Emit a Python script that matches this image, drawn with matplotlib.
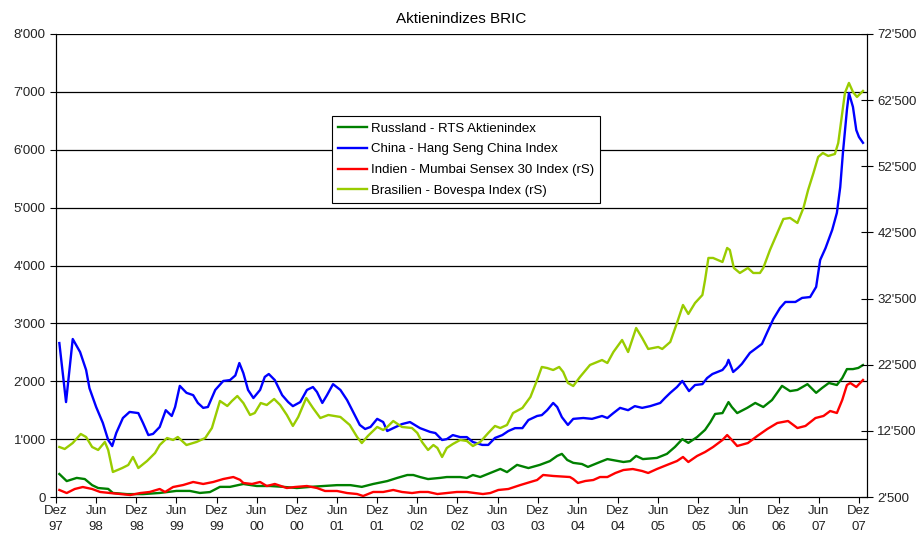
import matplotlib.pyplot as plt
from matplotlib.ticker import FuncFormatter

# months since Dez 97
ru_m = [0.5, 1.6, 3.1, 4.3, 5.4, 6.3, 7.8, 8.5, 10.6, 13, 15.5, 18, 20, 21.5, 23, 24.5, 26, 28, 30, 32,
        34, 36, 38, 40, 42, 44, 45.7, 47.4, 49.5, 51, 52.5, 53.4, 54.4, 55.6, 57.4, 58.4, 60.4, 61.4, 62.3,
        63.4, 64.9, 66.4, 67.4, 68.9, 70.6, 72.3, 73.8, 74.9, 75.6, 76.4, 77.3, 78.6, 79.5, 81.3, 82.4,
        84.8, 85.8, 86.7, 87.7, 89.8, 91.3, 92.5, 93.6, 94.5, 95.8, 97, 97.8, 98.5, 99.6, 100.5, 101,
        101.8, 103.3, 104.5, 105.7, 107, 108.5, 109.7, 110.8, 112.3, 113.6, 114.5, 115.5, 116.7, 117.5,
        118.2, 119.1, 119.9, 120.6]
ru_v = [397, 275, 330, 310, 205, 155, 140, 70, 50, 50, 70, 105, 105, 70, 85, 175, 175, 225, 190, 190,
        175, 155, 175, 190, 205, 205, 175, 225, 275, 330, 380, 380, 345, 310, 330, 345, 345, 330, 380,
        345, 415, 485, 430, 555, 500, 555, 620, 710, 745, 640, 590, 570, 520, 605, 655,
        605, 620, 710, 655, 675, 745, 865, 1000, 935, 1035, 1160, 1295, 1435, 1450, 1640, 1555,
        1450, 1540, 1625, 1555, 1675, 1920, 1830, 1850, 1950, 1800, 1885, 1970, 1935, 2055,
        2210, 2210, 2230, 2280]

cn_m = [0.5, 1.5, 2.5, 3.6, 4.5, 5, 6, 7, 7.8, 8.4, 9, 10, 11, 12.3, 13, 13.8, 14.5, 15.5, 16.4, 17.3,
        17.8, 18.5, 19.5, 20.5, 21.2, 22, 22.7, 23.8, 25, 26, 26.8, 27.4, 28, 28.7, 29.5, 30.5, 31.2,
        31.8, 32.7, 33.8, 34.7, 35.4, 36.5, 37.5, 38.4, 39, 39.8, 40.5, 41.4, 42.5, 43.5, 44.4, 45.4,
        46.2, 47, 48, 48.9, 49.5, 50.4, 51.7, 52.9, 54.4, 55.9, 56.7, 57.7, 58.4, 59.3, 60.4, 61.4,
        62.3, 63.7, 64.6, 65.6, 66.7, 67.6, 68.6, 69.7, 70.6, 71.9, 72.6, 73.4, 74.3, 74.9, 75.6, 76.5,
        77.3, 78.8, 80.1, 81.6, 82.4, 83.3, 84.3, 85.5, 86.5, 87.6, 88.8, 90.3, 91, 91.8, 92.8, 93.6,
        94, 94.6, 95.5, 96.6, 97.3, 98.1, 99.6, 100.2, 100.5, 101.2, 101.9, 102.5, 103.7, 105.5,
        106.3, 107.2, 108.2, 109, 110.5, 111.5, 112.7, 113.6, 114.2, 115, 116, 116.7, 117.2, 117.6,
        118.2, 118.5, 119.1, 119.6, 120, 120.6]
cn_v = [2660, 1640, 2730, 2505, 2195, 1880, 1555, 1280, 985, 880, 1105, 1365, 1470, 1450, 1280, 1070,
        1090, 1210, 1500, 1400, 1555, 1920, 1800, 1760, 1625, 1540, 1555, 1850, 2005, 2020, 2100, 2315,
        2140, 1850, 1710, 1850, 2075, 2125, 2020, 1760, 1640, 1570, 1640, 1850, 1900, 1815, 1625, 1760,
        1950, 1850, 1675, 1470, 1245, 1175, 1210, 1350, 1295, 1140, 1190, 1260, 1295, 1190, 1125, 1105,
        985, 1000, 1070, 1035, 1035, 950, 900, 900, 1020, 1070, 1140, 1190, 1190, 1330, 1400, 1415,
        1500, 1625, 1555, 1380, 1245, 1350, 1365, 1350, 1400, 1365, 1450, 1540, 1500, 1570, 1540, 1570,
        1625, 1710, 1800, 1900, 2005, 1935, 1830, 1935, 1950, 2055, 2125, 2195, 2280, 2370, 2160, 2230,
        2300, 2490, 2645, 2850, 3075, 3265, 3370, 3370, 3440, 3455, 3630, 4095, 4300, 4615, 4910, 5355,
        5945, 6690, 6980, 6740, 6340, 6220, 6120]

in_m = [0.5, 1.6, 2.8, 4, 5.4, 6.6, 8.1, 9.6, 11.1, 12.6, 14, 15.5, 16.3, 17.5, 19, 20.5, 22, 23.5, 25,
        26.5, 27.5, 28, 29.3, 30.5, 31.5, 32.7, 34.5, 35.7, 37.5, 39, 40.2, 42, 43.5, 45, 45.9, 47.4,
        48.9, 50.4, 51.7, 53.2, 54.4, 55.6, 57, 58.4, 59.9, 61.4, 62.6, 63.8, 64.9, 66.1, 67.6, 69.4,
        70.9, 71.9, 72.8, 74.3, 76.8, 77.3, 78, 79.1, 80.3, 81.3, 82.4, 83.6, 84.8, 86.2, 87.6, 88.5,
        89.8, 91.3, 92.8, 93.7, 94.5, 95.8, 97, 98.2, 99.6, 100.3, 101, 101.8, 103.4, 104.8, 106.3,
        107.8, 109.4, 110.8, 112, 113.5, 114.7, 115.7, 116.7, 117.5, 118.2, 118.7, 119.6, 120.6]
in_v = [3560, 3100, 3710, 4010, 3710, 3260, 3100, 2950, 2800, 3100, 3260, 3710, 3260, 4010, 4310, 4770,
        4470, 4770, 5220, 5520, 5100, 4620, 4470, 4770, 4160, 4470, 3860, 4010, 4160, 3860, 3410, 3410,
        3100, 2950, 2650, 3260, 3260, 3560, 3260, 3100, 3260, 3260, 2950, 3100, 3260, 3260, 3100, 2950,
        3100, 3560, 3710, 4310, 4770, 5070, 5830, 5680, 5520, 5220, 4620, 4920, 5070, 5520, 5520, 6130,
        6580, 6730, 6430, 6130, 6730, 7340, 7940, 8550, 7790, 8700, 9300, 10060, 11120, 11870, 11120,
        10210, 10660, 11720, 12780, 13690, 13990, 12930, 13240, 14440, 14750, 15500, 15200, 17170,
        19430, 19740, 19130, 20190]

br_m = [0.5, 1.3, 2.5, 3.7, 4.5, 5.4, 6.3, 7.3, 7.8, 8.5, 9.9, 10.8, 11.5, 12.3, 13.6, 14.8, 15.5, 16.6,
        17.5, 18.2, 19.5, 21, 22.3, 23.3, 24.1, 24.5, 25.6, 26.3, 27.1, 28, 29, 29.7, 30.6, 31.5, 32.6,
        33.5, 34.5, 35.4, 36.2, 37.4, 38.4, 39.5, 40.7, 42.5, 43.9, 45, 45.7, 46.6, 48, 48.9, 49.5,
        50.4, 51.7, 53.2, 54, 54.7, 55.6, 56.4, 57, 57.7, 58.4, 59.3, 60.4, 61.4, 62.3, 63.4, 64.6,
        65.6, 66.4, 67.4, 68.3, 69.7, 70.9, 71.9, 72.6, 73.4, 74.3, 75.2, 75.8, 76.5, 77.3, 78.3, 79.8,
        81.6, 82.4, 83.3, 84.6, 85.5, 86.1, 86.7, 87.6, 88.5, 90, 90.6, 91.8, 92.8, 93.7, 94.5, 95.5,
        96.6, 97, 97.5, 98.2, 99.6, 100.3, 100.7, 101.3, 102.2, 103.4, 104.2, 105.2, 105.7, 106.7,
        107.8, 108.7, 109.7, 110.8, 111.7, 112.4, 113.2, 113.9, 114.6, 115.4, 116.4, 116.9, 117.3,
        117.9, 118.5, 119.1, 119.7, 120.6]
br_v = [10060, 9760, 10660, 12030, 11570, 10060, 9610, 10820, 9610, 6280, 6880, 7340, 8550, 6880, 7940,
        9150, 10360, 11420, 11120, 11570, 10360, 10820, 11420, 12930, 15650, 17020, 16260, 17020, 17770,
        16710, 14900, 15200, 16710, 16410, 17320, 16410, 14900, 13240, 14600, 17470, 15960, 14440,
        14900, 14600, 13390, 11570, 10660, 11720, 13090, 12630, 13090, 13990, 13090, 12930, 12180,
        10820, 9610, 10360, 9910, 8550, 9910, 10510, 11120, 10970, 10210, 10820, 12180, 13240, 12930,
        13390, 15200, 15960, 17620, 20190, 22160, 22000, 21700, 22160, 21400, 19740, 19280, 20640,
        22460, 23210, 22760, 24420, 26240, 24420, 26240, 28050, 26540, 24880, 25180, 24880, 25940,
        28810, 31530, 30170, 31830, 33040, 35310, 38640, 38640, 38030, 40150, 39850, 37130, 36370,
        37130, 36370, 36370, 37130, 39850, 42420, 44530, 44690, 43930, 46200, 48920, 51490, 53910,
        54510, 54060, 54360, 56020, 59050, 63590, 65100, 63740, 62980, 63890]

tick_labels = ['Dez\n97', 'Jun\n98', 'Dez\n98', 'Jun\n99', 'Dez\n99', 'Jun\n00', 'Dez\n00',
               'Jun\n01', 'Dez\n01', 'Jun\n02', 'Dez\n02', 'Jun\n03', 'Dez\n03', 'Jun\n04',
               'Dez\n04', 'Jun\n05', 'Dez\n05', 'Jun\n06', 'Dez\n06', 'Jun\n07', 'Dez\n07']

plt.rcParams['font.family'] = ['Liberation Sans', 'DejaVu Sans']
plt.rcParams['font.size'] = 9.5

fig = plt.figure(figsize=(9.17, 5.36), dpi=100)
ax = fig.add_axes([56 / 917, 1 - 497 / 536, 811 / 917, 463 / 536])
ax2 = ax.twinx()

fmt = FuncFormatter(lambda v, p: "{:,}".format(int(v)).replace(",", "'"))

ax.set_xlim(0, 121.2)
ax.set_ylim(0, 8000)
ax.set_yticks(range(0, 8001, 1000))
ax.yaxis.set_major_formatter(fmt)
ax.set_xticks(range(0, 121, 6))
ax.set_xticklabels(tick_labels, linespacing=1.45)
for y in range(1000, 8001, 1000):
    ax.axhline(y, color='black', lw=0.9, zorder=0)

ax2.set_ylim(2500, 72500)
ax2.set_yticks(range(2500, 72501, 10000))
ax2.yaxis.set_major_formatter(fmt)

l1, = ax.plot(ru_m, ru_v, color='#008000', lw=1.7, label='Russland - RTS Aktienindex')
l2, = ax.plot(cn_m, cn_v, color='#0000FF', lw=1.7, label='China - Hang Seng China Index')
l3, = ax2.plot(in_m, in_v, color='#FF0000', lw=1.7, label='Indien - Mumbai Sensex 30 Index (rS)')
l4, = ax2.plot(br_m, br_v, color='#99CC00', lw=1.7, label='Brasilien - Bovespa Index (rS)')

for a in (ax, ax2):
    a.spines['top'].set_visible(False)
ax.tick_params(axis='both', length=4, colors='black', labelcolor='#222222')
ax.tick_params(axis='x', pad=2)
ax2.tick_params(axis='y', direction='inout', length=8, labelcolor='#222222')

leg = ax2.legend(handles=[l1, l2, l3, l4], loc='upper left', bbox_to_anchor=(0.34, 0.822),
                 fancybox=False, framealpha=1, edgecolor='black', handlelength=2.2,
                 handletextpad=0.3, borderpad=0.45, labelspacing=0.65, borderaxespad=0)
leg.get_frame().set_linewidth(0.8)

ax.set_title('Aktienindizes BRIC', fontsize=11, pad=8)

fig.savefig('out.png', dpi=100)
